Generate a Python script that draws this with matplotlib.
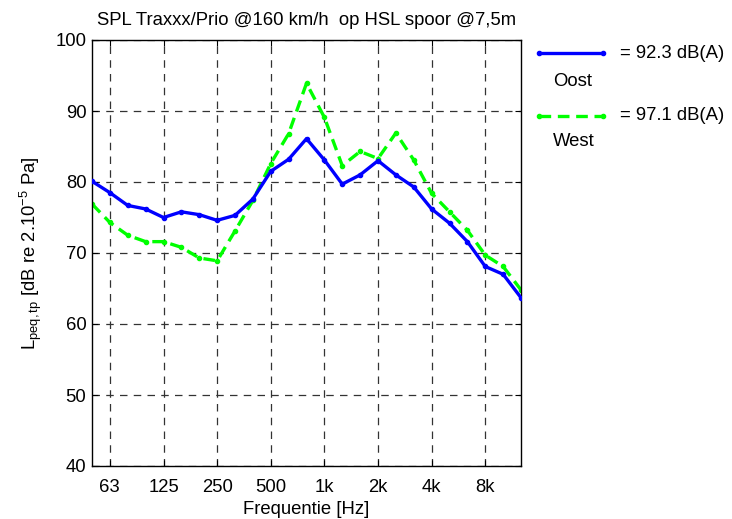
import numpy as np
import matplotlib
matplotlib.use("Agg")
import matplotlib.pyplot as plt
from matplotlib.lines import Line2D

plt.rcParams['font.family'] = ['Liberation Sans', 'DejaVu Sans']
plt.rcParams['mathtext.fontset'] = 'custom'
plt.rcParams['mathtext.rm'] = 'Liberation Sans'
plt.rcParams['mathtext.it'] = 'Liberation Sans'

# third-octave band indices (10*log10(f)), 50 Hz .. 12.5 kHz
band_index = list(range(17, 42))
freqs = [10 ** (n / 10) for n in band_index]

oost = [80.1, 78.5, 76.7, 76.2, 75.0, 75.8, 75.4, 74.6, 75.3, 77.6, 81.5, 83.2, 86.1,
        83.1, 79.7, 81.0, 83.0, 81.0, 79.3, 76.2, 74.2, 71.6, 68.1, 67.0, 63.7]
west = [76.9, 74.3, 72.5, 71.6, 71.6, 70.8, 69.3, 68.9, 73.1, 77.4, 82.6, 86.8, 93.9,
        89.1, 82.3, 84.3, 83.3, 86.9, 83.1, 78.4, 75.8, 73.2, 69.7, 68.1, 64.8]

tick_freqs = [10 ** 1.8, 10 ** 2.1, 10 ** 2.4, 10 ** 2.7, 10 ** 3.0, 10 ** 3.3, 10 ** 3.6, 10 ** 3.9]
tick_labels = ['63', '125', '250', '500', '1k', '2k', '4k', '8k']
y_ticks = [40, 50, 60, 70, 80, 90, 100]

legend_values = ['= 92.3 dB(A)', '= 97.1 dB(A)']
legend_names = ['Oost', 'West']

FS = 13.3

fig = plt.figure(figsize=(7.32, 5.19), dpi=100)
ax = fig.add_axes([92 / 732, 1 - 466 / 519, (521 - 92) / 732, (466 - 40) / 519])

blue = '#0000ff'
green = '#00ff00'
ax.plot(freqs, oost, '-', color=blue, lw=2.4, marker='.', ms=6, zorder=3)
ax.plot(freqs, west, '--', color=green, lw=2.4, marker='.', ms=6, dashes=(3.5, 2), zorder=2)

ax.set_xscale('log')
ax.set_xlim(freqs[0], freqs[-1])
ax.set_ylim(40, 100)
ax.set_xticks(tick_freqs)
ax.set_xticklabels(tick_labels)
ax.xaxis.set_minor_locator(matplotlib.ticker.NullLocator())
ax.set_yticks(y_ticks)
ax.tick_params(direction='in', top=True, right=True, labelsize=FS, length=4)
ax.tick_params(axis='x', pad=9)
ax.tick_params(axis='y', pad=4)
ax.grid(True, color='#333333', linestyle=(0, (6, 5)), lw=0.9)
for s in ax.spines.values():
    s.set_linewidth(1.0)

ax.set_xlabel('Frequentie [Hz]', fontsize=FS, labelpad=4)
ax.set_ylabel(r'L$_{\mathregular{peq,tp}}$ [dB re 2.10$^{\mathregular{-5}}$ Pa]', fontsize=FS, labelpad=8)
ax.set_title('SPL Traxxx/Prio @160 km/h  op HSL spoor @7,5m', fontsize=FS, pad=11)

# legend drawn manually outside the axes
W, H = 732, 519
for i, (col, ls, val, name) in enumerate(zip([blue, green], ['-', '--'], legend_values, legend_names)):
    y_line = 53 + i * 63
    y_name = 82 + i * 60
    ln = Line2D([539 / W, 603 / W], [1 - y_line / H, 1 - y_line / H], color=col, lw=2.4,
                linestyle=ls, transform=fig.transFigure)
    if ls == '--':
        ln.set_dashes((3.5, 2))
    fig.add_artist(ln)
    mk = Line2D([539 / W, 603 / W], [1 - y_line / H, 1 - y_line / H], color=col, lw=0,
                marker='.', ms=6, transform=fig.transFigure)
    fig.add_artist(mk)
    fig.text(620 / W, 1 - y_line / H, val, fontsize=FS, va='center', ha='left')
    fig.text(553 / W, 1 - y_name / H, name, fontsize=FS, va='center', ha='left')

fig.savefig('out.png', dpi=100)
